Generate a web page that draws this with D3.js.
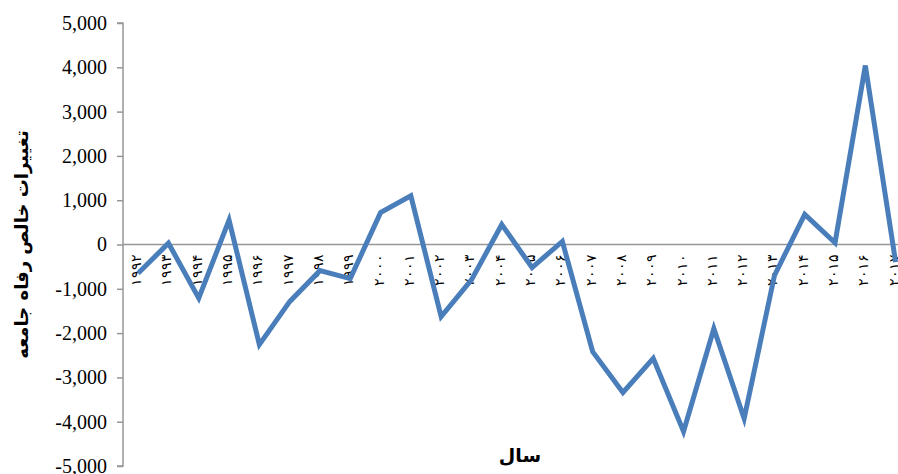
<!DOCTYPE html>
<html>
<head>
<meta charset="utf-8">
<script src="https://cdn.jsdelivr.net/npm/d3@7"></script>
<style>
body { margin: 0; background: #fff; }
svg { display: block; }
</style>
</head>
<body>
<div id="chart-area"></div>
<script>
// years as shown on the axis (Persian digits)
var years = ["۱۹۹۲","۱۹۹۳","۱۹۹۴","۱۹۹۵","۱۹۹۶","۱۹۹۷","۱۹۹۸","۱۹۹۹","۲۰۰۰","۲۰۰۱",
             "۲۰۰۲","۲۰۰۳","۲۰۰۴","۲۰۰۵","۲۰۰۶","۲۰۰۷","۲۰۰۸","۲۰۰۹","۲۰۱۰","۲۰۱۱",
             "۲۰۱۲","۲۰۱۳","۲۰۱۴","۲۰۱۵","۲۰۱۶","۲۰۱۷"];
var welfare = [-650, 30, -1210, 550, -2260, -1290, -590, -770, 720, 1100,
               -1630, -800, 450, -520, 70, -2420, -3340, -2570, -4220, -1900,
               -3930, -700, 680, 40, 4040, -400];
var yTicks = [-5000, -4000, -3000, -2000, -1000, 0, 1000, 2000, 3000, 4000, 5000];

var width = 898, height = 474;
var margin = {top: 23, left: 123};
var plotBottom = 466;

var svg = d3.select("#chart-area").append("svg")
    .attr("width", width).attr("height", height);

var x = d3.scaleBand()
    .domain(years)
    .range([margin.left, margin.left + 26 * 30.3]);

var y = d3.scaleLinear()
    .domain([-5000, 5000])
    .range([plotBottom, margin.top]);

var fmt = d3.format(",");

// y axis
var yAxis = svg.append("g")
    .attr("transform", "translate(" + margin.left + ",0)")
    .call(d3.axisLeft(y).tickValues(yTicks).tickSize(6).tickPadding(10)
        .tickFormat(function(d) { return fmt(d).replace("−", "-"); }));
yAxis.selectAll("path, line").attr("stroke", "#969696").attr("stroke-width", 1.5);
yAxis.select("path").attr("d", "M-6," + y(5000) + "H0V" + y(-5000) + "H-6");
yAxis.attr("font-family", null).attr("font-size", null);
yAxis.selectAll("text")
    .style("font-family", '"Liberation Serif"')
    .style("font-size", "20px")
    .attr("fill", "#000");

// zero line
svg.append("line")
    .attr("x1", margin.left).attr("x2", width)
    .attr("y1", y(0)).attr("y2", y(0))
    .attr("stroke", "#969696").attr("stroke-width", 1.5);

// year labels, rotated
svg.append("g").selectAll("text").data(years).enter().append("text")
    .attr("transform", function(d) {
        return "translate(" + (x(d) + x.bandwidth() / 2 + 3) + "," + (y(0) + 9) + ") rotate(-90)";
    })
    .attr("text-anchor", "end")
    .style("font-family", '"Liberation Serif"')
    .style("font-size", "14px")
    .style("letter-spacing", "3px")
    .text(function(d) { return d; });

// line
var line = d3.line()
    .x(function(d, i) { return x(years[i]) + x.bandwidth() / 2; })
    .y(function(d) { return y(d); });

svg.append("path")
    .datum(welfare)
    .attr("d", line)
    .attr("fill", "none")
    .attr("stroke", "#4a7ebb")
    .attr("stroke-width", 5)
    .attr("stroke-linejoin", "miter");

// axis titles
svg.append("text")
    .attr("transform", "translate(28," + y(0) + ") rotate(-90)")
    .attr("text-anchor", "middle")
    .style("font-family", '"DejaVu Sans"')
    .style("font-weight", "bold")
    .style("font-size", "18px")
    .text("تغییرات خالص رفاه جامعه");

svg.append("text")
    .attr("x", 520).attr("y", 462)
    .attr("text-anchor", "middle")
    .style("font-family", '"DejaVu Sans"')
    .style("font-weight", "bold")
    .style("font-size", "19px")
    .text("سال");
</script>
</body>
</html>
